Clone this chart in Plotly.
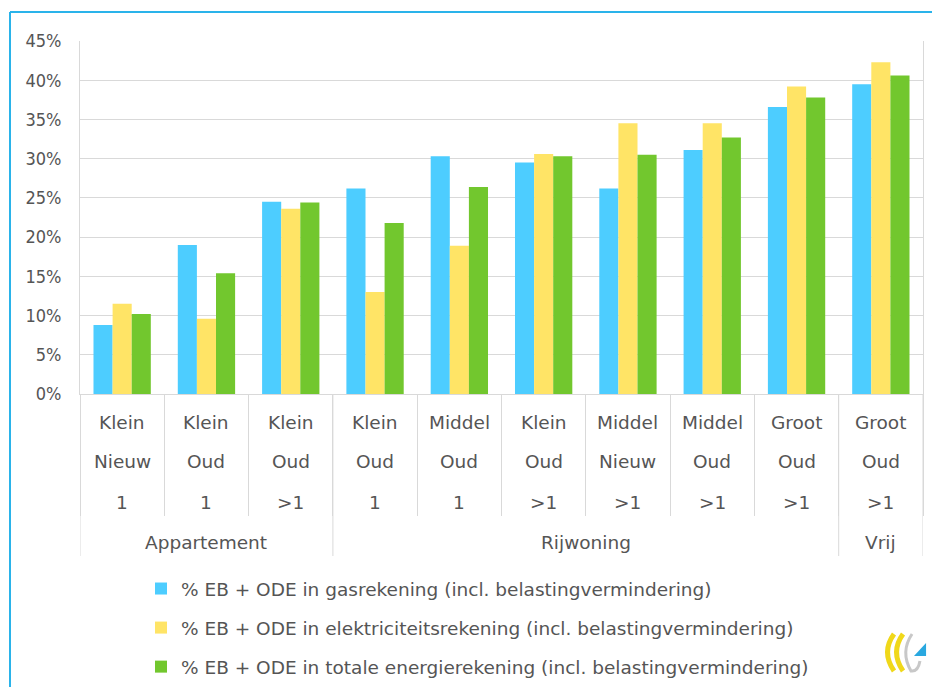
import plotly.graph_objects as go

# ---------- DATA ----------
size = ["Klein", "Klein", "Klein", "Klein", "Middel", "Klein", "Middel", "Middel", "Groot", "Groot"]
age = ["Nieuw", "Oud", "Oud", "Oud", "Oud", "Oud", "Nieuw", "Oud", "Oud", "Oud"]
persons = ["1", "1", ">1", "1", "1", ">1", ">1", ">1", ">1", ">1"]
groups = ["Appartement", "Rijwoning", "Vrij"]
group_span = [(0, 2), (3, 8), (9, 9)]

gas = [8.8, 19.0, 24.5, 26.2, 30.3, 29.5, 26.2, 31.1, 36.6, 39.5]
elek = [11.5, 9.6, 23.6, 13.0, 18.9, 30.6, 34.5, 34.5, 39.2, 42.3]
totaal = [10.2, 15.4, 24.4, 21.8, 26.4, 30.3, 30.5, 32.7, 37.8, 40.6]

names = [
    "% EB + ODE in gasrekening (incl. belastingvermindering)",
    "% EB + ODE in elektriciteitsrekening (incl. belastingvermindering)",
    "% EB + ODE in totale energierekening (incl. belastingvermindering)",
]
colors = ["#4dcdff", "#ffe466", "#72c72e"]

# ---------- LAYOUT HELPERS ----------
# page has an 8px body margin on every side, keep the figure inside it
OFF = 8
W, H = 940 - 2 * OFF, 695 - 2 * OFF
PL, PT, PR, PB = 80, 41, 923, 394  # plot area in page pixels
FONT = "DejaVu Sans"
FONT_C = "DejaVu Sans Condensed"
TXT = "#555555"
GRID = "#d9d9d9"


def px(x):
    return (x - PL) / (PR - PL)


def py(y):
    return (PB - y) / (PB - PT)


def path(pts):
    return "M " + " ".join(
        f"{c} {px(a):.4f},{py(b):.4f}" if c else f"{px(a):.4f},{py(b):.4f}"
        for c, a, b in pts)


x = list(range(len(size)))

fig = go.Figure()
for vals, name, col in zip([gas, elek, totaal], names, colors):
    fig.add_trace(go.Bar(x=x, y=vals, name=name, marker_color=col,
                         marker_line_width=0, legendgroup=name))

# inner labels (3 lines) + group labels
ann = []
for i in x:
    for txt, shift in zip([size[i], age[i], persons[i]], [-28, -67, -108]):
        ann.append(dict(x=i, y=0, xref="x", yref="paper", text=txt,
                        showarrow=False, yshift=shift, yanchor="middle",
                        font=dict(size=18.5, color=TXT, family=FONT)))
for g, (a, b) in zip(groups, group_span):
    ann.append(dict(x=(a + b) / 2, y=0, xref="x", yref="paper", text=g,
                    showarrow=False, yshift=-148, yanchor="middle",
                    font=dict(size=18.5, color=TXT, family=FONT)))

bounds = [i - 0.5 for i in range(len(size) + 1)]
outer = [group_span[0][0] - 0.5] + [b + 0.5 for _, b in group_span]

shapes = [dict(type="line", xref="x", yref="paper", x0=v, x1=v,
               y0=0, y1=py(556), line=dict(color=GRID, width=1))
          for v in outer]
# blue frame
shapes += [
    dict(type="line", xref="paper", yref="paper", x0=px(10), x1=px(940),
         y0=py(12), y1=py(12), line=dict(color="#2ab3ea", width=2)),
    dict(type="line", xref="paper", yref="paper", x0=px(10), x1=px(10),
         y0=py(12), y1=py(695), line=dict(color="#2ab3ea", width=2)),
]
# small logo bottom right
shapes += [
    dict(type="path", xref="paper", yref="paper",
         path=path([("", 894, 634), ("Q", 881, 652), ("", 894, 671)]),
         line=dict(color="#f0d81a", width=5)),
    dict(type="path", xref="paper", yref="paper",
         path=path([("", 903, 634), ("Q", 890, 652), ("", 903, 671)]),
         line=dict(color="#f0d81a", width=5)),
    dict(type="path", xref="paper", yref="paper",
         path=path([("", 912, 634), ("Q", 900, 652), ("", 911, 671),
                    ("Q", 918, 672), ("", 920, 661)]),
         line=dict(color="#c8c8c8", width=3)),
    dict(type="path", xref="paper", yref="paper",
         path=path([("", 914, 656), ("L", 926, 656), ("L", 926, 643)]) + " Z",
         fillcolor="#29a8e0", line=dict(width=0)),
]

fig.update_layout(
    width=W, height=H,
    margin=dict(l=PL - OFF, r=W - (PR - OFF), t=PT - OFF, b=H - (PB - OFF),
                autoexpand=False),
    plot_bgcolor="white", paper_bgcolor="white",
    barmode="group", bargap=0.32, bargroupgap=0,
    font=dict(family=FONT, size=18, color=TXT),
    annotations=ann,
    shapes=shapes,
    showlegend=True,
    legend=dict(x=px(141), y=py(570), xanchor="left", yanchor="top",
                font=dict(size=18.5, color=TXT, family=FONT),
                tracegroupgap=12, itemclick=False),
    xaxis=dict(range=[-0.5, len(size) - 0.5], showgrid=False,
               tickvals=bounds, ticks="outside", ticklen=121,
               tickcolor=GRID, showticklabels=False,
               showline=True, linecolor=GRID, zeroline=False),
    yaxis=dict(range=[0, 45], dtick=5, ticksuffix="%", showgrid=True,
               gridcolor=GRID, showline=True, linecolor=GRID, mirror=True,
               zeroline=False, ticklabelstandoff=14,
               tickfont=dict(size=18, color=TXT, family=FONT_C)),
)

fig.write_html("out.html")
